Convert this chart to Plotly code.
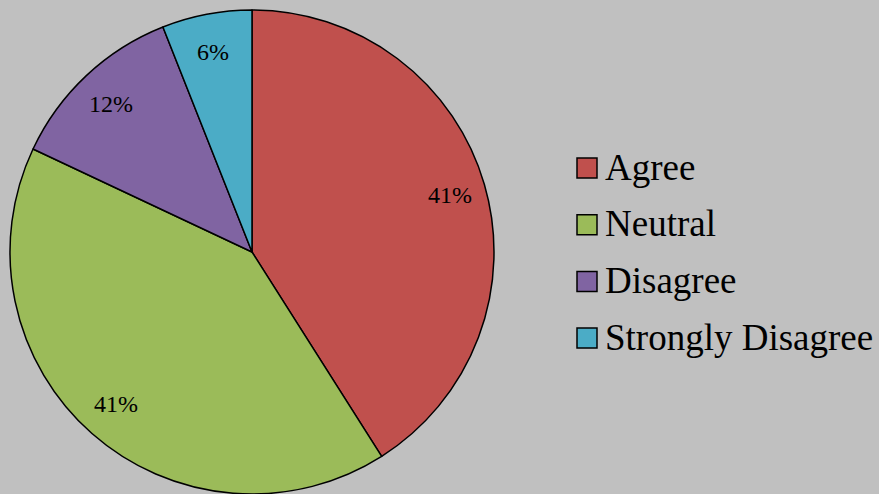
import numpy as np
import plotly.graph_objects as go

labels = ["Agree", "Neutral", "Disagree", "Strongly Disagree"]
values = [41, 41, 12, 6]
colors = ["#C0504D", "#9BBB59", "#8064A2", "#4BACC6"]

W, H = 879, 494
CX, CY, R = 252, 252, 242  # pie centre and radius in pixels

fig = go.Figure(go.Pie(
    labels=labels,
    values=values,
    sort=False,
    direction="clockwise",
    rotation=0,
    marker=dict(colors=colors, line=dict(color="black", width=1.5)),
    textinfo="none",
    domain=dict(x=[(CX - R) / W, (CX + R) / W], y=[0, (2 * R) / H]),
    hoverinfo="label+percent",
    showlegend=False,
))

# percentage labels placed towards the outer part of each slice
vals = np.array(values, dtype=float)
frac = vals / vals.sum()
cum = np.cumsum(frac)
mid = (cum - frac / 2) * 2 * np.pi
annotations = []
for m, f in zip(mid, frac):
    px = CX + 0.85 * R * np.sin(m)
    py = CY - 0.84 * R * np.cos(m)
    annotations.append(dict(
        x=px / W, y=1 - py / H, xref="paper", yref="paper",
        text=f"{round(f * 100)}%", showarrow=False,
        xanchor="center", yanchor="middle",
        font=dict(family="Liberation Serif", size=24, color="black"),
    ))

# legend
shapes = []
LX, LY0, DY, S = 577, 168, 56.7, 20
for i, (lab, col) in enumerate(zip(labels, colors)):
    yc = LY0 + i * DY
    shapes.append(dict(
        type="rect", xref="paper", yref="paper",
        x0=LX / W, x1=(LX + S) / W,
        y0=1 - (yc + S / 2) / H, y1=1 - (yc - S / 2) / H,
        fillcolor=col, line=dict(color="black", width=1.5),
    ))
    annotations.append(dict(
        x=(LX + S + 6) / W, y=1 - (yc - 1) / H, xref="paper", yref="paper",
        text=lab, showarrow=False, xanchor="left", yanchor="middle",
        font=dict(family="Liberation Serif", size=37, color="black"),
    ))

fig.update_layout(
    width=W, height=H,
    margin=dict(l=0, r=0, t=0, b=0),
    paper_bgcolor="#C0C0C0",
    plot_bgcolor="#C0C0C0",
    showlegend=False,
    annotations=annotations,
    shapes=shapes,
)

fig.write_html("out.html", config={"displayModeBar": False},
               post_script="document.body.style.margin='0';")
